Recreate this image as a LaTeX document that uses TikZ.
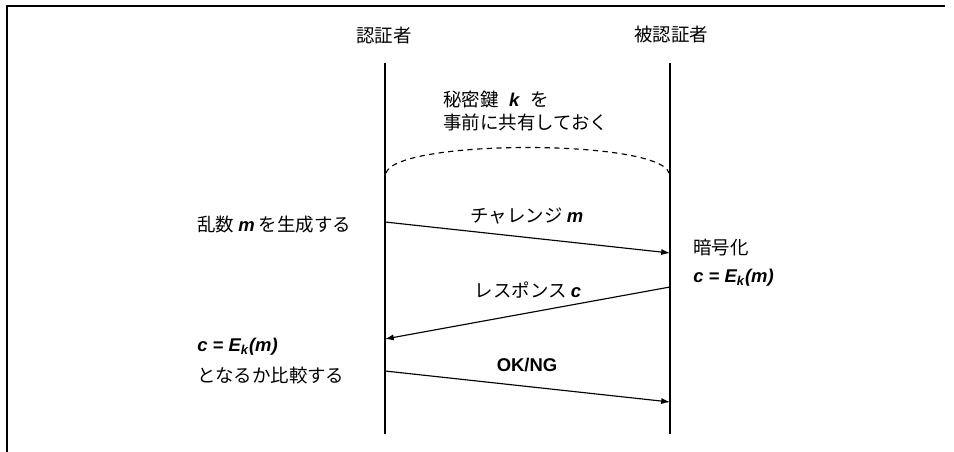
\documentclass[tikz,border=0pt]{standalone}
\usepackage{fontspec}
\setmainfont{Noto Sans CJK JP}
\newfontfamily\latinfont{Liberation Sans}
\newcommand{\bvar}[1]{{\latinfont\bfseries\itshape #1}}
\usepackage{tikz}
\usetikzlibrary{arrows.meta}
\tikzstyle{txt} = [font={\fontsize{10.5}{12}\selectfont}]
\tikzstyle{note} = [txt, anchor=west, inner sep=0pt]
\tikzstyle{lifeline} = [line width=0.75pt]
\tikzstyle{msg} = [->, line width=0.65pt]
\tikzstyle{frame} = [line width=1.1pt]

\begin{document}
\begin{tikzpicture}[x=0.02cm, y=-0.02cm, >={Latex[length=5pt,width=3.5pt]}]
    \useasboundingbox (0,0) rectangle (954,452);
    \draw[frame] (7,452) -- (7,6) -- (945,6);
    % lifelines
    \node[txt](auth) at (384,35){認証者};
    \node[txt](claim) at (671,35){被認証者};
    \coordinate (a0) at (385,63);
    \coordinate (a1) at (385,434);
    \coordinate (b0) at (670,63);
    \coordinate (b1) at (670,434);
    \draw[lifeline] (a0) -- (a1);
    \draw[lifeline] (b0) -- (b1);
    % shared key
    \node[note](key1) at (443,100){秘密鍵\hspace{6pt}\bvar{k}\hspace{6pt}を};
    \node[note](key2) at (443,122){事前に共有しておく};
    \coordinate (a2) at (386,173);
    \coordinate (b2) at (669,173);
    \draw[dashed, dash pattern=on 3pt off 2.5pt, line width=0.65pt] (a2) .. controls (396,139) and (659,139) .. (b2);
    % messages
    \coordinate (m1s) at (385,222);
    \coordinate (m1e) at (670,253);
    \coordinate (m2s) at (670,287);
    \coordinate (m2e) at (385,339);
    \coordinate (m3s) at (385,371);
    \coordinate (m3e) at (670,402);
    \draw[msg] (m1s) -- (m1e);
    \draw[msg] (m2s) -- (m2e);
    \draw[msg] (m3s) -- (m3e);
    \node[txt](chall) at (527,216){チャレンジ \bvar{m}};
    \node[txt](resp) at (528,290){レスポンス \bvar{c}};
    \node[txt](ok) at (527,365){\latinfont\bfseries OK/NG};
    % actions
    \node[note](gen) at (197,225){乱数 \bvar{m} を生成する};
    \node[note](enc) at (693,248){暗号化};
    \node[note](encf) at (693,278){\bvar{c = E\textsubscript{k}(m)}};
    \node[note](cmp1) at (197,347){\bvar{c = E\textsubscript{k}(m)}};
    \node[note](cmp2) at (197,376){となるか比較する};
  \end{tikzpicture}
\end{document}
